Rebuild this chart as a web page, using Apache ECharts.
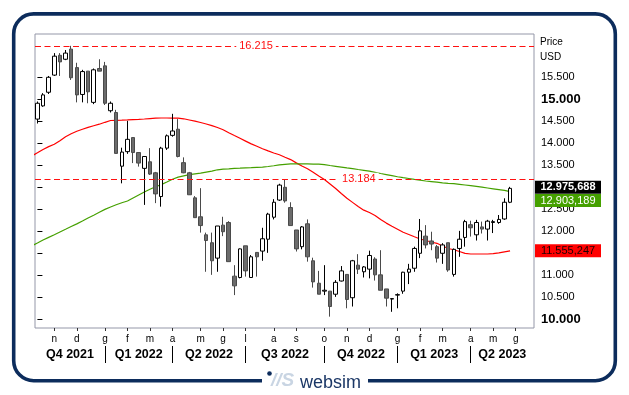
<!DOCTYPE html>
<html><head><meta charset="utf-8">
<script src="https://cdn.jsdelivr.net/npm/echarts@6/dist/echarts.min.js"></script>
<style>html,body{margin:0;padding:0;background:#fff;}#c{width:629px;height:395px;}</style>
</head><body><div id="c"></div>
<script>
// ---- DATA (weekly candles, USD) ----
const firstWeek = [2021, 9, 15];   // Friday 15 Oct 2021
const extraWeeks = 4;              // empty weeks shown after the last candle
const opens = [14550,14850,15160,15550,16000,15910,16140,15720,15110,15640,
  14930,15700,15760,14740,14700,13480,13810,14130,13790,13430,
  13580,13330,12790,13890,14180,14320,13560,13330,12760,12330,
  11920,11740,11390,12140,12200,10980,10950,11670,10950,11520,
  11550,11820,12320,12710,13000,12540,12030,11650,12170,11330,
  10820,10640,10640,10570,10870,11020,10490,11230,11080,11140,
  11370,11010,10690,10460,10550,10640,11070,11160,11500,11890,
  11780,11650,11500,11740,11020,11610,11860,12150,11920,12100,
  12050,12200,12200,12280,12660];
const closes = [14910,15100,15500,15980,15850,16050,15490,15100,15630,15170,
  15670,15640,14910,14910,13770,13800,14090,13790,13550,13700,
  13300,12850,13890,14170,14280,13700,13330,12830,12310,12130,
  11790,11330,12120,11990,11310,10760,11600,11100,11420,11420,
  11830,12390,12660,13050,12690,12130,11600,12100,11420,10850,
  10570,10660,10290,10840,11100,10450,11330,11140,11190,11450,
  11010,10660,10480,10470,10560,11070,11140,11610,12010,11690,
  11710,11390,11690,11120,11590,11820,12220,12080,12200,12050,
  12230,12220,12270,12660,12975.688];
const lows = [14450,14830,15120,15530,15530,15890,15440,14930,14930,14910,
  14890,15640,14870,14700,13770,13090,13760,13550,13470,12600,
  13280,12640,12560,13850,14150,13680,13320,12825,12310,11970,
  11080,11010,11080,11890,11310,10550,10930,10970,10950,10970,
  11330,11510,12270,12690,12650,12130,11540,11590,11310,10720,
  10570,10550,10060,10510,10860,10250,10290,11030,10950,10930,
  10880,10660,10290,10170,10250,10580,10800,11080,11390,11610,
  11570,11290,11260,11080,10970,11420,11650,11880,11790,11950,
  11790,11960,12170,12260,12640];
const highs = [14950,15140,15530,16050,16050,16120,16215,15830,15670,15640,
  15700,15910,15850,14950,14760,13900,14510,14130,13790,13710,
  13890,13350,13920,14200,14670,14550,13680,13350,12800,12980,
  11970,11970,12120,12330,12230,11230,11610,11670,11460,11520,
  12080,12420,12730,13080,13170,12660,12030,12120,12270,11400,
  11100,11230,10640,10890,11210,11020,11350,11480,11210,11560,
  11410,11570,10690,10480,10590,11080,11260,11650,12280,12140,
  11990,11690,11730,11740,11610,12010,12260,12240,12260,12220,
  12260,12260,12370,12750,13010];
// moving averages, first value is the week before the first candle
const maRed = [13711,13784,13859,13925,13977,14059,14148,14216,14273,14318,
  14361,14398,14434,14477,14518,14523,14527,14532,14539,14545,
  14552,14561,14570,14575,14575,14573,14570,14557,14530,14502,
  14473,14439,14402,14359,14307,14241,14177,14114,14050,13986,
  13932,13877,13827,13780,13739,13684,13630,13555,13484,13420,
  13341,13257,13175,13075,12973,12859,12750,12657,12564,12480,
  12427,12359,12266,12186,12116,12048,11977,11927,11875,11825,
  11791,11757,11727,11666,11609,11580,11541,11498,11484,11484,
  11484,11484,11493,11511,11534,11555.247];
const maGreen = [11670,11734,11802,11861,11920,11984,12045,12107,12168,12234,
  12302,12366,12432,12498,12552,12602,12648,12689,12757,12825,
  12893,12957,13011,13061,13120,13184,13230,13261,13289,13307,
  13320,13343,13366,13398,13411,13420,13430,13434,13441,13445,
  13452,13459,13473,13489,13509,13523,13530,13530,13530,13530,
  13527,13525,13516,13495,13477,13459,13441,13425,13405,13386,
  13366,13341,13314,13289,13264,13239,13218,13200,13180,13161,
  13143,13130,13116,13102,13091,13082,13068,13052,13036,13020,
  13002,12984,12966,12948,12930,12903.189];
const levels = [16215, 13184];
const yTicks = [10000,10500,11000,11500,12000,12500,13000,13500,14000,14500,15000,15500];
const monthLetters = ['g','f','m','a','m','g','l','a','s','o','n','d'];

// ---- LAYOUT ----
const X_MIN = -0.43, X_MAX = 88.25, Y_MIN = 9802, Y_MAX = 16484;
const levelLabelPos = [0.443, 0.649];
const FONT = 'Liberation Sans, Arial, Helvetica, sans-serif';

function itFmt(v, dec) {
  const s = Number(v).toFixed(dec);
  let parts = s.split('.');
  let ip = parts[0].replace(/\B(?=(\d{3})+(?!\d))/g, '.');
  return parts[1] ? ip + ',' + parts[1] : ip;
}

// weeks (categories)
const weeks = [];
const t0 = Date.UTC(firstWeek[0], firstWeek[1], firstWeek[2]);
for (let i = -1; i < opens.length + extraWeeks; i++) weeks.push(new Date(t0 + i * 7 * 86400000));
const weekAt = i => weeks[i + 1];
const monthTicks = [], monthTickLabels = [], qSeps = [], qNames = [];
for (let i = 0; i < opens.length + extraWeeks; i++) {
  const d = weekAt(i), p = weekAt(i - 1);
  if (d.getUTCMonth() !== p.getUTCMonth() && i <= X_MAX) {
    monthTicks.push(i); monthTickLabels.push(monthLetters[d.getUTCMonth()]);
    if (d.getUTCMonth() % 3 === 0) qSeps.push(i);
  }
}
const bounds = [X_MIN].concat(qSeps, [X_MAX]);
const qCenters = [];
for (let k = 0; k < bounds.length - 1; k++) {
  const mid = (bounds[k] + bounds[k + 1]) / 2;
  qCenters.push(mid);
  const d = weekAt(Math.max(0, Math.ceil(bounds[k])));
  qNames.push('Q' + (Math.floor(d.getUTCMonth() / 3) + 1) + ' ' + d.getUTCFullYear());
}

const candleData = opens.map((o, i) => [i, o, closes[i], lows[i], highs[i]]);
const redData = maRed.map((v, i) => [i - 1, v]);
const greenData = maGreen.map((v, i) => [i - 1, v]);
const lastIdx = opens.length - 1;

function boxPoint(value, bg, fg, bold, dy) {
  return {
    coord: [X_MAX, value], symbol: 'rect', symbolSize: [66, 13], symbolOffset: [34, dy],
    itemStyle: { color: bg },
    label: { show: true, position: 'inside', formatter: itFmt(value, 3), color: fg,
      fontFamily: FONT, fontSize: 11, fontWeight: bold ? 'bold' : 'normal' }
  };
}

const chart = echarts.init(document.getElementById('c'), null, { renderer: 'canvas' });
chart.setOption({
  animation: false,
  backgroundColor: '#fff',
  grid: { left: 35, top: 34, width: 499, height: 294, show: true, borderColor: '#9497a8', borderWidth: 1, backgroundColor: '#fff' },
  xAxis: [{
    type: 'value', min: X_MIN, max: X_MAX, position: 'bottom',
    axisLine: { show: false }, splitLine: { show: false },
    axisTick: { show: true, customValues: monthTicks, length: 3, lineStyle: { color: '#333' } },
    axisLabel: { customValues: monthTicks, margin: 6, fontSize: 10, color: '#000', fontFamily: FONT,
      formatter: v => monthTickLabels[monthTicks.indexOf(v)] || '' }
  }, {
    type: 'value', min: X_MIN, max: X_MAX, position: 'bottom', offset: 18,
    axisLine: { show: false }, splitLine: { show: false },
    axisTick: { show: true, customValues: qSeps, length: 17, lineStyle: { color: '#000' } },
    axisLabel: { customValues: qCenters, margin: 2, fontSize: 12.5, fontWeight: 'bold', color: '#000', fontFamily: FONT,
      formatter: v => { let k = 0, best = 1e9; qCenters.forEach((c, j) => { if (Math.abs(c - v) < best) { best = Math.abs(c - v); k = j; } }); return qNames[k]; } }
  }],
  yAxis: {
    type: 'value', position: 'right', min: Y_MIN, max: Y_MAX,
    axisLine: { show: false }, splitLine: { show: false },
    axisTick: { show: true, customValues: yTicks, length: 5, lineStyle: { color: '#000' } },
    axisLabel: { customValues: yTicks, margin: 7, color: '#000', fontFamily: FONT, fontSize: 11,
      formatter: v => (v % 5000 === 0 ? '{b|' + itFmt(v, 0) + '}' : itFmt(v, 0)),
      rich: { b: { fontWeight: 'bold', fontSize: 13, color: '#000', fontFamily: FONT } } }
  },
  series: [{
    type: 'line', data: redData, symbol: 'none', silent: true,
    lineStyle: { color: '#ff0000', width: 1.2 }, z: 3,
    markPoint: { silent: true, data: [boxPoint(maRed[maRed.length - 1], '#ff0000', '#200000', false, 0)] }
  }, {
    type: 'line', data: greenData, symbol: 'none', silent: true,
    lineStyle: { color: '#45a000', width: 1.2 }, z: 3,
    markPoint: { silent: true, data: [boxPoint(maGreen[maGreen.length - 1], '#45a000', '#ffffff', false, 9)] }
  }, {
    type: 'candlestick', data: candleData, barWidth: 4, z: 4,
    itemStyle: { color: '#ffffff', color0: '#6b6b6b', borderColor: '#000000', borderColor0: '#4a4a4a', borderWidth: 1 },
    markLine: {
      silent: true, symbol: 'none', label: { show: false },
      lineStyle: { type: [6, 3.5], color: '#ff1010', width: 1 },
      data: levels.map(v => ({ yAxis: v }))
    },
    markPoint: {
      silent: true,
      data: levels.map((v, k) => ({
        coord: [X_MIN + levelLabelPos[k] * (X_MAX - X_MIN), v], symbol: 'rect', symbolSize: 1,
        itemStyle: { color: 'rgba(0,0,0,0)' },
        label: { show: true, position: 'inside', formatter: itFmt(v, 0), color: '#ff1010', fontSize: 11,
          fontFamily: FONT, backgroundColor: '#fff', padding: [1, 3] }
      })).concat([boxPoint(closes[lastIdx], '#000000', '#ffffff', true, -1)])
    }
  }],
  graphic: [
    { type: 'rect', shape: { x: 13.7, y: 13.9, width: 601.6, height: 366.8, r: 20 },
      style: { fill: 'none', stroke: '#0c2c5c', lineWidth: 3.6 }, silent: true, z: 10 },
    { type: 'rect', shape: { x: 262, y: 370, width: 106, height: 25 }, style: { fill: '#fff' }, silent: true, z: 11 },
    { type: 'circle', shape: { cx: 269.5, cy: 373.5, r: 2.3 }, style: { fill: '#0c2c5c' }, silent: true, z: 12 },
    { type: 'text', x: 271, y: 390, style: { text: '//S', fill: '#c9d5e3', font: 'italic bold 19px ' + FONT, textVerticalAlign: 'bottom' }, silent: true, z: 12 },
    { type: 'text', x: 300, y: 392, style: { text: 'websim', fill: '#1b3766', font: '18px ' + FONT, textVerticalAlign: 'bottom' }, silent: true, z: 12 },
    { type: 'text', x: 540, y: 42, style: { text: 'Price', fill: '#000', font: '10px ' + FONT, textVerticalAlign: 'middle' }, silent: true },
    { type: 'text', x: 540, y: 57, style: { text: 'USD', fill: '#000', font: '10px ' + FONT, textVerticalAlign: 'middle' }, silent: true }
  ]
});
</script></body></html>
